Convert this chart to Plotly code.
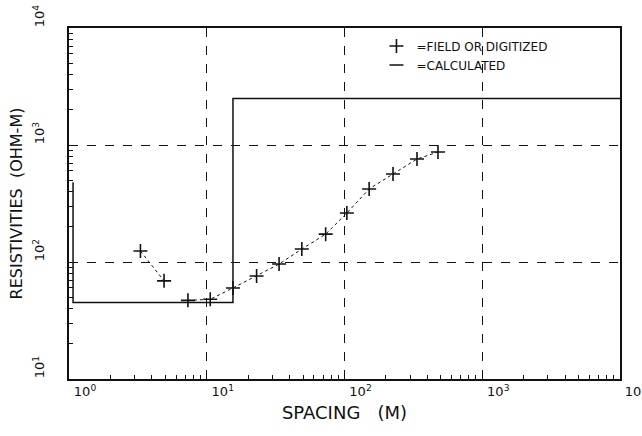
import plotly.graph_objects as go

# Apparent resistivity sounding: field curve and calculated layered model
field_spacing = [3.3, 4.9, 7.3, 10.6, 15.5, 23, 33.5, 49, 73, 104, 151, 225, 336, 477]
field_rho = [124, 69, 47, 48, 60, 76, 96, 129, 173, 262, 421, 565, 759, 871]
field_segment = [1, 1, 2, 2, 2, 2, 2, 2, 2, 2, 2, 2, 2, 2]

calc_spacing = [1.07, 1.07, 15.5, 15.5, 10000]
calc_rho = [480, 45, 45, 2500, 2500]

decade_vals = [1, 10, 100, 1000, 10000]
x_tick_text = ["10<sup>0</sup>", "10<sup>1</sup>", "10<sup>2</sup>", "10<sup>3</sup>", "10<sup>4</sup>"]
y_decades = [10, 100, 1000, 10000]
y_tick_text = ["10<sup>1</sup>", "10<sup>2</sup>", "10<sup>3</sup>", "10<sup>4</sup>"]

FONT = "DejaVu Sans"
INK = "#111111"

def minor_vals(lo, hi):
    vals = []
    d = lo
    while d < hi:
        vals += [k * d for k in range(2, 10)]
        d *= 10
    return vals

fig = go.Figure()

# calculated model curve
fig.add_trace(go.Scatter(
    x=calc_spacing, y=calc_rho, mode="lines",
    line=dict(color=INK, width=1.5), showlegend=False, hoverinfo="skip"))

# field data, drawn per spread segment
for seg in sorted(set(field_segment)):
    xs = [x for x, s in zip(field_spacing, field_segment) if s == seg]
    ys = [y for y, s in zip(field_rho, field_segment) if s == seg]
    fig.add_trace(go.Scatter(
        x=xs, y=ys, mode="lines+markers",
        line=dict(color=INK, width=1, dash="dot"),
        marker=dict(symbol="cross-thin", size=10, line=dict(color=INK, width=1.6)),
        showlegend=False))

# legend keys
fig.add_trace(go.Scatter(
    x=[None], y=[None], mode="markers", name="=FIELD OR DIGITIZED",
    marker=dict(symbol="cross-thin", size=10, line=dict(color=INK, width=1.6))))
fig.add_trace(go.Scatter(
    x=[None], y=[None], mode="markers", name="=CALCULATED",
    marker=dict(symbol="line-ew", size=10, line=dict(color=INK, width=1.4))))

axis_common = dict(
    type="log", showline=True, linecolor=INK, linewidth=1.5, mirror=True,
    ticks="inside", ticklen=8, tickwidth=1.2, tickcolor=INK,
    showgrid=True, gridcolor=INK, gridwidth=1.4, griddash="dash",
    zeroline=False, tickfont=dict(family=FONT, size=13, color=INK),
    ticklabeloverflow="allow", automargin=False,
)

fig.update_xaxes(
    **axis_common,
    range=[0, 4], tickmode="array", tickvals=decade_vals, ticktext=x_tick_text,
    ticklabelshift=16,
    minor=dict(ticks="inside", ticklen=4, tickwidth=1, tickcolor=INK,
               tickvals=minor_vals(1, 10000), showgrid=False),
    title=dict(text="SPACING\u00a0\u00a0 (M)", font=dict(family=FONT, size=18, color=INK), standoff=8),
)
fig.update_yaxes(
    **axis_common,
    range=[1, 4], tickmode="array", tickvals=y_decades, ticktext=y_tick_text,
    tickangle=-90, ticklabelstandoff=18, ticklabelshift=-10,
    minor=dict(ticks="inside", ticklen=4, tickwidth=1, tickcolor=INK,
               tickvals=minor_vals(10, 10000), showgrid=False),
    title=dict(text="RESISTIVITIES\u00a0 (OHM-M)", font=dict(family=FONT, size=16, color=INK), standoff=4),
)

fig.update_layout(
    width=642, height=436,
    margin=dict(l=69, r=22, t=28, b=57),
    paper_bgcolor="white", plot_bgcolor="white",
    font=dict(family=FONT, color=INK),
    legend=dict(x=0.558, y=0.99, xanchor="left", yanchor="top",
                bgcolor="rgba(0,0,0,0)", font=dict(family=FONT, size=12, color=INK),
                itemwidth=30, tracegroupgap=0),
)

fig.write_html("out.html")
